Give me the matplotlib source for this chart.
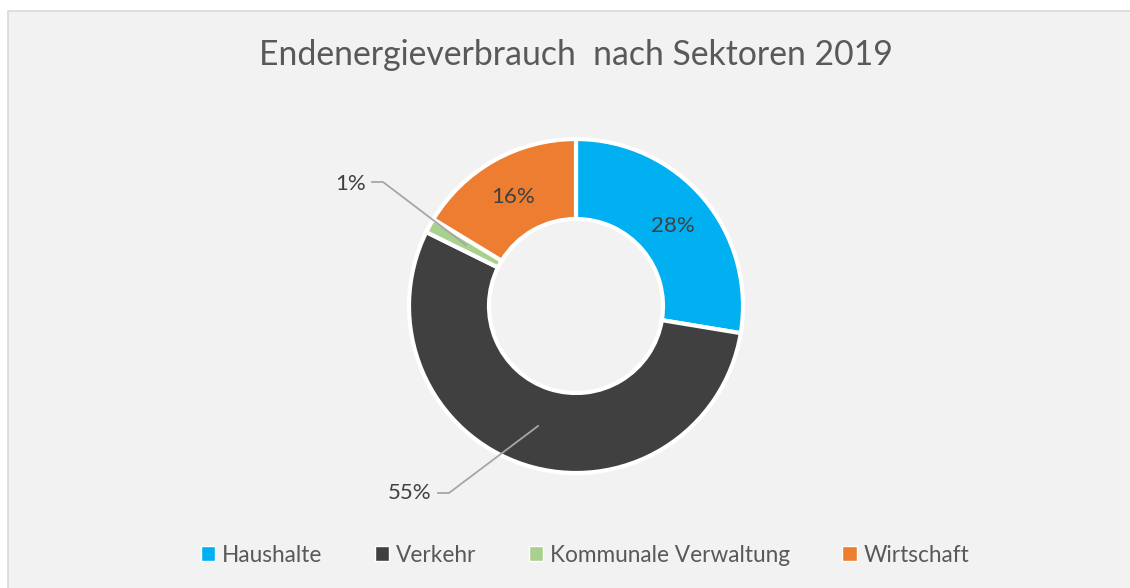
import matplotlib.pyplot as plt
from matplotlib.patches import Rectangle, Patch

sectors = ["Haushalte", "Verkehr", "Kommunale Verwaltung", "Wirtschaft"]
shares = [27.6, 54.7, 1.4, 16.3]
labels = ["28%", "55%", "1%", "16%"]
colors = ["#00b0f0", "#404040", "#a9d18e", "#ed7d31"]
title = "Endenergieverbrauch  nach Sektoren 2019"

plt.rcParams["font.family"] = ["Lato", "DejaVu Sans"]

W, H = 1130, 588
fig = plt.figure(figsize=(W / 100, H / 100), dpi=100)
fig.patch.set_facecolor("white")
ax = fig.add_axes([0, 0, 1, 1])

# chart area (pixel coords, y up)
ax.add_patch(Rectangle((8, -5), W, H - 11 + 5, facecolor="#f2f2f2",
                       edgecolor="#d9d9d9", lw=1.2, zorder=0))

cx, cy, r = 576, H - 306, 167
wedges, _ = ax.pie(shares, colors=colors, startangle=90, counterclock=False,
                   center=(cx, cy), radius=r,
                   wedgeprops=dict(width=80, edgecolor="white", linewidth=3))
for w in wedges:
    w.set_zorder(2)

ax.set_xlim(0, W)
ax.set_ylim(0, H)
ax.set_aspect("equal")
ax.axis("off")

lbl = dict(fontsize=16, color="#404040", ha="center", va="center", zorder=4)
ax.text(673, H - 226, labels[0], **lbl)
ax.text(513, H - 197, labels[3], **lbl)
ax.text(351, H - 184, labels[2], **lbl)
ax.text(410, H - 493, labels[1], **lbl)

# leader lines
ax.plot([372, 383, 466], [H - 182, H - 182, H - 245], color="#a6a6a6", lw=1.3, zorder=3)
ax.plot([438, 449, 538], [H - 493, H - 493, H - 426], color="#a6a6a6", lw=1.3, zorder=3)

ax.text(576, H - 55, title, fontsize=24.3, color="#595959", ha="center", va="center")

handles = [Patch(facecolor=c, edgecolor="white", lw=1) for c in colors]
fig.legend(handles, sectors, loc="center", bbox_to_anchor=(585 / W, 1 - 555 / H),
           ncol=4, frameon=False, fontsize=16.3, handlelength=0.65, handleheight=0.65,
           handletextpad=0.3, columnspacing=2.3, labelcolor="#595959")

fig.savefig("out.png", dpi=100)
